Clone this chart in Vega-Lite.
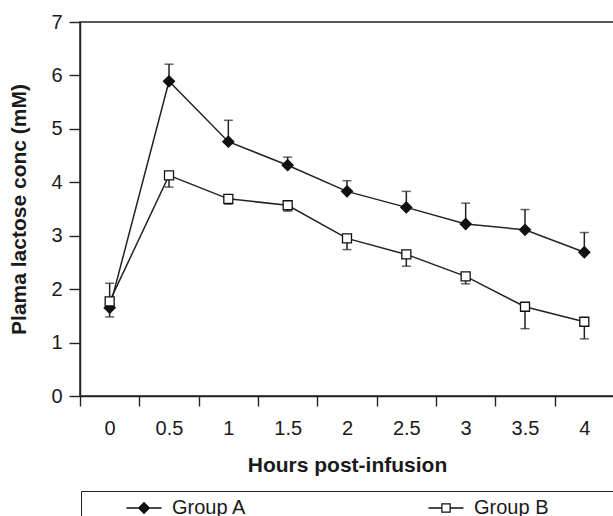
{
  "$schema": "https://vega.github.io/schema/vega-lite/v6.json",
  "autosize": {"type": "none"},
  "padding": {"left": 80, "top": 22, "right": 0, "bottom": 120},
  "width": 534,
  "height": 374,
  "background": "white",
  "config": {
    "font": "Liberation Sans",
    "view": {"stroke": "#222", "strokeWidth": 1.5},
    "axis": {"grid": false, "domainColor": "#222", "tickColor": "#222", "domainWidth": 1.4, "tickWidth": 1.4, "labelColor": "#1a1a1a", "titleColor": "#1a1a1a", "labelFont": "Liberation Sans", "titleFont": "Liberation Sans", "labelFontSize": 20, "titleFontSize": 21, "titleFontWeight": "bold"}
  },
  "datasets": {
    "pts": [
      {"group": "Group A", "hour": "0", "mean": 1.65, "errEnd": 1.48},
      {"group": "Group A", "hour": "0.5", "mean": 5.89, "errEnd": 6.21},
      {"group": "Group A", "hour": "1", "mean": 4.76, "errEnd": 5.16},
      {"group": "Group A", "hour": "1.5", "mean": 4.32, "errEnd": 4.47},
      {"group": "Group A", "hour": "2", "mean": 3.83, "errEnd": 4.03},
      {"group": "Group A", "hour": "2.5", "mean": 3.53, "errEnd": 3.83},
      {"group": "Group A", "hour": "3", "mean": 3.22, "errEnd": 3.61},
      {"group": "Group A", "hour": "3.5", "mean": 3.11, "errEnd": 3.49},
      {"group": "Group A", "hour": "4", "mean": 2.69, "errEnd": 3.06},
      {"group": "Group B", "hour": "0", "mean": 1.77, "errEnd": 2.11},
      {"group": "Group B", "hour": "0.5", "mean": 4.13, "errEnd": 3.91},
      {"group": "Group B", "hour": "1", "mean": 3.69, "errEnd": 3.59},
      {"group": "Group B", "hour": "1.5", "mean": 3.57, "errEnd": 3.46},
      {"group": "Group B", "hour": "2", "mean": 2.95, "errEnd": 2.74},
      {"group": "Group B", "hour": "2.5", "mean": 2.65, "errEnd": 2.43},
      {"group": "Group B", "hour": "3", "mean": 2.24, "errEnd": 2.10},
      {"group": "Group B", "hour": "3.5", "mean": 1.67, "errEnd": 1.26},
      {"group": "Group B", "hour": "4", "mean": 1.39, "errEnd": 1.07}
    ]
  },
  "data": {"name": "pts"},
  "encoding": {
    "x": {
      "field": "hour", "type": "ordinal",
      "sort": ["0", "0.5", "1", "1.5", "2", "2.5", "3", "3.5", "4"],
      "scale": {"paddingInner": 0, "paddingOuter": 0},
      "axis": {"title": "Hours post-infusion", "labelAngle": 0, "tickBand": "extent", "tickSize": 10, "labelPadding": 12, "titlePadding": 16}
    }
  },
  "resolve": {"scale": {"shape": "independent", "fill": "independent", "size": "independent"}},
  "layer": [
    {
      "mark": {"type": "line", "color": "#222", "strokeWidth": 1.5},
      "encoding": {
        "y": {"field": "mean", "type": "quantitative", "scale": {"domain": [0, 7], "nice": false},
          "axis": {"title": "Plama lactose conc (mM)", "values": [0, 1, 2, 3, 4, 5, 6, 7], "format": "d", "tickSize": 11, "labelPadding": 7, "titlePadding": 21}},
        "detail": {"field": "group"}
      }
    },
    {
      "mark": {"type": "rule", "color": "#222", "strokeWidth": 1.5},
      "encoding": {
        "y": {"field": "mean", "type": "quantitative"},
        "y2": {"field": "errEnd"}
      }
    },
    {
      "mark": {"type": "tick", "color": "#222", "size": 9, "thickness": 1.5},
      "encoding": {
        "y": {"field": "errEnd", "type": "quantitative"}
      }
    },
    {
      "mark": {"type": "point", "filled": true, "stroke": "#111", "strokeWidth": 1.3, "opacity": 1},
      "encoding": {
        "y": {"field": "mean", "type": "quantitative"},
        "size": {"field": "group", "type": "nominal", "scale": {"domain": ["Group A", "Group B"], "range": [121, 81]}, "legend": null},
        "fill": {"field": "group", "type": "nominal", "scale": {"domain": ["Group A", "Group B"], "range": ["#111", "white"]}, "legend": null},
        "shape": {"field": "group", "type": "nominal", "scale": {"domain": ["Group A", "Group B"], "range": ["diamond", "square"]}, "legend": null}
      }
    },
    {
      "mark": {"type": "point", "filled": true, "opacity": 0},
      "encoding": {
        "y": {"field": "mean", "type": "quantitative"},
        "fill": {"field": "group", "type": "nominal", "scale": {"domain": ["Group A", "Group B", "pad"], "range": ["#111", "#111", "white"]}},
        "shape": {"field": "group", "type": "nominal",
          "scale": {"domain": ["Group A", "Group B", "pad"], "range": [
            "M-3.5,-0.15H3.5V0.15H-3.5ZM-1.25,0L0,-1.25L1.25,0L0,1.25Z",
            "M-3.5,-0.15H-0.95V0.15H-3.5ZM0.95,-0.15H3.5V0.15H0.95ZM-0.95,-0.95H0.95V0.95H-0.95ZM-0.7,-0.7V0.7H0.7V-0.7Z",
            "M0,0"]},
          "legend": {
            "title": null, "orient": "none", "legendX": 1, "legendY": 469,
            "direction": "horizontal", "columns": 3, "padding": 7,
            "strokeColor": "#222", "cornerRadius": 0,
            "symbolSize": 100, "symbolOffset": 46, "labelOffset": 18, "columnPadding": 143,
            "symbolOpacity": 1,
            "labelFont": "Liberation Sans", "labelFontSize": 20, "labelColor": "#1a1a1a", "labelLimit": 400,
            "labelExpr": "datum.value === 'pad' ? '' : datum.label"
          }
        }
      }
    }
  ]
}
